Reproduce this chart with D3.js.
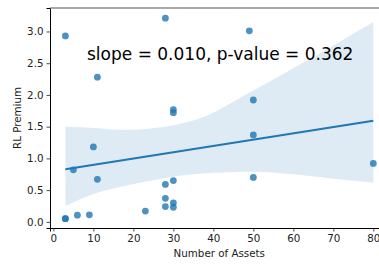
<!DOCTYPE html>
<html><head><meta charset="utf-8">
<script src="https://cdn.jsdelivr.net/npm/d3@7"></script>
<style>body{margin:0;background:#fff}svg{display:block}text{font-family:"DejaVu Sans",sans-serif}</style>
</head><body>
<script>
const numAssets = [3,3,3,5,6,9,10,11,11,23,28,28,28,28,30,30,30,30,30,49,50,50,50,80];
const rlPremium = [2.93,0.05,0.05,0.82,0.105,0.11,1.18,2.28,0.67,0.17,3.21,0.59,0.37,0.24,1.77,1.72,0.65,0.30,0.23,3.01,1.92,1.37,0.70,0.92];
const ciX = [3,10,18,27,37,50,60,70,80];
const ciUpper = [1.50,1.48,1.45,1.49,1.64,2.07,2.42,2.78,3.15];
const ciLower = [0.25,0.44,0.57,0.68,0.76,0.79,0.75,0.68,0.62];
const xTicks = [0,10,20,30,40,50,60,70,80];
const yTicks = [0.0,0.5,1.0,1.5,2.0,2.5,3.0];
const annotation = "slope = 0.010, p-value = 0.362";
const xLabel = "Number of Assets", yLabel = "RL Premium";

const W=379,H=264;
const svg=d3.select("body").append("svg").attr("width",W).attr("height",H);
const x=d3.scaleLinear().domain([-0.85,83.85]).range([50,388.7]);
const y=d3.scaleLinear().domain([-0.097,3.37]).range([228,8]);
const blue="#1f77b4";

// regression
const n=numAssets.length, mx=d3.mean(numAssets), my=d3.mean(rlPremium);
let sxy=0,sxx=0;
for(let i=0;i<n;i++){sxy+=(numAssets[i]-mx)*(rlPremium[i]-my);sxx+=(numAssets[i]-mx)**2;}
const slope=sxy/sxx, icpt=my-slope*mx;
const xr=d3.extent(numAssets);

// points
svg.append("g").selectAll("circle").data(numAssets).join("circle")
 .attr("cx",(d)=>x(d)).attr("cy",(d,i)=>y(rlPremium[i])).attr("r",3.4)
 .attr("fill",blue).attr("fill-opacity",0.8);

// band
const area=d3.area().x(d=>x(d)).y0((d,i)=>y(ciLower[i])).y1((d,i)=>y(ciUpper[i])).curve(d3.curveMonotoneX);
svg.append("path").datum(ciX).attr("d",area).attr("fill",blue).attr("fill-opacity",0.15);

// line
svg.append("line").attr("x1",x(xr[0])).attr("x2",x(xr[1]))
 .attr("y1",y(icpt+slope*xr[0])).attr("y2",y(icpt+slope*xr[1]))
 .attr("stroke",blue).attr("stroke-width",2);

// axes
const xa=svg.append("g").attr("transform","translate(0,228)")
 .call(d3.axisBottom(x).tickValues(xTicks).tickFormat(d3.format("d")).tickSizeOuter(0).tickSize(3.5).tickPadding(3));
const ya=svg.append("g").attr("transform","translate(50,0)")
 .call(d3.axisLeft(y).tickValues(yTicks).tickFormat(d3.format(".1f")).tickSizeOuter(0).tickSize(3.5).tickPadding(3));
[xa,ya].forEach(g=>{
  g.select(".domain").attr("stroke","#000").attr("stroke-width",1);
  g.selectAll(".tick line").attr("stroke","#222").attr("stroke-width",0.8);
  g.selectAll(".tick text").attr("fill","#222").style("font-size","10.3px").style("font-family","DejaVu Sans");
});
svg.append("line").attr("x1",50).attr("x2",W).attr("y1",8).attr("y2",8).attr("stroke","#555").attr("stroke-width",1);

svg.append("text").attr("x",219.3).attr("y",257).attr("text-anchor","middle")
 .style("font-size","10.3px").attr("fill","#222").text(xLabel);
svg.append("text").attr("transform","translate(20.5,118) rotate(-90)").attr("text-anchor","middle")
 .style("font-size","10.3px").attr("fill","#222").text(yLabel);

svg.append("text").attr("x",87).attr("y",60).style("font-size","17px").attr("fill","#000").text(annotation);
</script>
</body></html>
